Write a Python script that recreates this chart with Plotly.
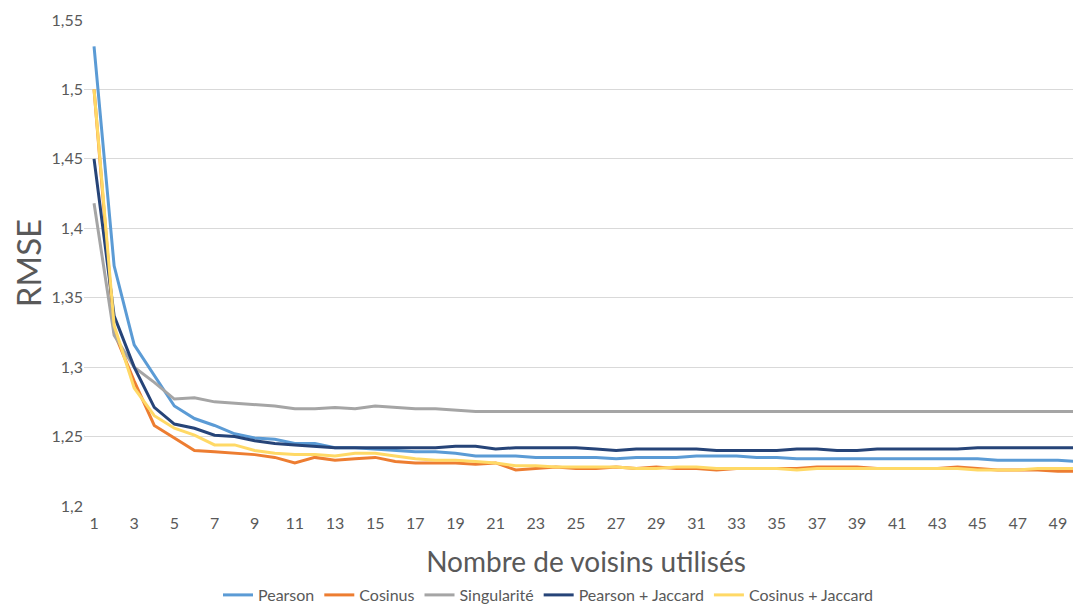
import plotly.graph_objects as go

# Nombre de voisins (1..50)
voisins = list(range(1, 51))

pearson = [1.531, 1.373, 1.316, 1.294, 1.272, 1.263, 1.258, 1.252, 1.249, 1.248,
           1.245, 1.245, 1.242, 1.242, 1.241, 1.240, 1.239, 1.239, 1.238, 1.236,
           1.236, 1.236, 1.235, 1.235, 1.235, 1.235, 1.234, 1.235, 1.235, 1.235,
           1.236, 1.236, 1.236, 1.235, 1.235, 1.234, 1.234, 1.234, 1.234, 1.234,
           1.234, 1.234, 1.234, 1.234, 1.234, 1.233, 1.233, 1.233, 1.233, 1.232]

cosinus = [1.500, 1.325, 1.290, 1.258, 1.249, 1.240, 1.239, 1.238, 1.237, 1.235,
           1.231, 1.235, 1.233, 1.234, 1.235, 1.232, 1.231, 1.231, 1.231, 1.230,
           1.231, 1.226, 1.227, 1.228, 1.227, 1.227, 1.228, 1.227, 1.228, 1.227,
           1.227, 1.226, 1.227, 1.227, 1.227, 1.227, 1.228, 1.228, 1.228, 1.227,
           1.227, 1.227, 1.227, 1.228, 1.227, 1.226, 1.226, 1.226, 1.225, 1.225]

singularite = [1.418, 1.323, 1.300, 1.289, 1.277, 1.278, 1.275, 1.274, 1.273, 1.272,
               1.270, 1.270, 1.271, 1.270, 1.272, 1.271, 1.270, 1.270, 1.269, 1.268,
               1.268, 1.268, 1.268, 1.268, 1.268, 1.268, 1.268, 1.268, 1.268, 1.268,
               1.268, 1.268, 1.268, 1.268, 1.268, 1.268, 1.268, 1.268, 1.268, 1.268,
               1.268, 1.268, 1.268, 1.268, 1.268, 1.268, 1.268, 1.268, 1.268, 1.268]

pearson_jaccard = [1.450, 1.337, 1.300, 1.271, 1.259, 1.256, 1.251, 1.250, 1.247, 1.245,
                   1.244, 1.243, 1.242, 1.242, 1.242, 1.242, 1.242, 1.242, 1.243, 1.243,
                   1.241, 1.242, 1.242, 1.242, 1.242, 1.241, 1.240, 1.241, 1.241, 1.241,
                   1.241, 1.240, 1.240, 1.240, 1.240, 1.241, 1.241, 1.240, 1.240, 1.241,
                   1.241, 1.241, 1.241, 1.241, 1.242, 1.242, 1.242, 1.242, 1.242, 1.242]

cosinus_jaccard = [1.500, 1.330, 1.285, 1.265, 1.256, 1.251, 1.244, 1.244, 1.240, 1.238,
                   1.237, 1.237, 1.236, 1.238, 1.238, 1.236, 1.234, 1.233, 1.233, 1.232,
                   1.231, 1.229, 1.229, 1.228, 1.228, 1.228, 1.228, 1.227, 1.227, 1.228,
                   1.228, 1.227, 1.227, 1.227, 1.227, 1.226, 1.227, 1.227, 1.227, 1.227,
                   1.227, 1.227, 1.227, 1.227, 1.226, 1.226, 1.226, 1.227, 1.227, 1.227]

series_names = ["Pearson", "Cosinus", "Singularité", "Pearson + Jaccard", "Cosinus + Jaccard"]
series_colors = ["#5B9BD5", "#ED7D31", "#A5A5A5", "#264478", "#FFD966"]

y_ticks = [1.2, 1.25, 1.3, 1.35, 1.4, 1.45, 1.5, 1.55]
y_labels = ["1,2", "1,25", "1,3", "1,35", "1,4", "1,45", "1,5", "1,55"]
x_ticks = list(range(1, 50, 2))

fig = go.Figure()

for name, values, color in zip(series_names,
                               [pearson, cosinus, singularite, pearson_jaccard, cosinus_jaccard],
                               series_colors):
    fig.add_trace(go.Scatter(x=voisins, y=values, mode="lines", name=name,
                             line=dict(color=color, width=3)))

fig.update_layout(
    width=1081, height=604,
    margin=dict(l=76, r=1, t=12, b=106),
    plot_bgcolor="white", paper_bgcolor="white",
    font=dict(family="Lato, Open Sans, sans-serif", color="#595959"),
    showlegend=True,
    legend=dict(orientation="h", x=0.5, xanchor="center", xref="container",
                y=0.0, yanchor="bottom", yref="container",
                font=dict(size=16, color="#595959"), itemwidth=30),
)

fig.update_xaxes(
    range=[0.5, 50.5], tickvals=x_ticks, showgrid=False, zeroline=False,
    ticks="", ticklabelstandoff=6, tickfont=dict(size=16, color="#595959"),
    automargin=False,
    title=dict(text="Nombre de voisins utilisés", font=dict(size=28, color="#595959"), standoff=27),
)
fig.update_yaxes(
    range=[1.2, 1.55], tickvals=y_ticks, ticktext=y_labels,
    showgrid=True, gridcolor="#D9D9D9", gridwidth=1, zeroline=False,
    tickfont=dict(size=16, color="#595959"), automargin=False,
    title=dict(text="RMSE", font=dict(size=33, color="#595959"), standoff=2),
)

fig.write_html("out.html")
